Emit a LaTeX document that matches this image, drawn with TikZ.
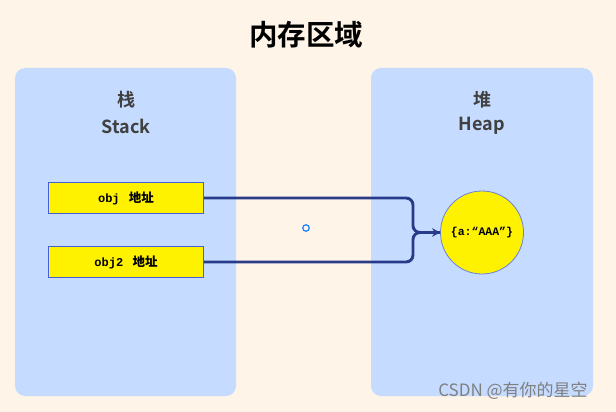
\documentclass[tikz,border=0pt]{standalone}
\usepackage{fontspec}
\usepackage{tikz}
\usetikzlibrary{arrows.meta}
\setmainfont{Noto Sans CJK SC}
\newfontfamily\cjk{Noto Sans CJK SC}
\newfontfamily\cjkbold{Noto Sans CJK SC Bold}
\newfontfamily\codefont{Liberation Mono}
\definecolor{cream}{HTML}{FFF4E8}
\definecolor{paleblue}{HTML}{C5DBFF}
\definecolor{navy}{HTML}{283B8A}
\definecolor{edgeblue}{HTML}{4460D4}
\definecolor{dotblue}{HTML}{1E80FF}
\definecolor{labelgrey}{HTML}{404040}

\begin{document}
\begin{tikzpicture}[x=1pt, y=-1pt, >={Stealth[length=8pt, width=8.5pt]}, thick]

\fill[cream] (0,0) rectangle (616,412);
\useasboundingbox (0,0) rectangle (616,412);

% panels
\fill[paleblue, rounded corners=10pt] (15,68) rectangle (236,396);
\fill[paleblue, rounded corners=10pt] (371,68) rectangle (593,396);

\tikzstyle{every node}=[inner sep=0pt]
\draw    (306, 35)  node (title) {\cjkbold\fontsize{28.5}{30}\selectfont 内存区域};

\tikzstyle{every node}=[inner sep=0pt, text=labelgrey, font=\cjkbold\fontsize{18}{20}\selectfont]
\draw    (126, 100) node (stackzh) {栈}
         (126, 126) node (stacken) {Stack}
         (482, 100) node (heapzh) {堆}
         (482, 126) node (heapen) {Heap};

\tikzstyle{every node}=[rectangle, fill=yellow, draw=edgeblue, line width=0.8pt,
                        minimum width=155.5pt, minimum height=31.5pt, inner sep=0pt]
\draw    (126, 198) node (ref1) {\codefont\bfseries\fontsize{12}{12}\selectfont obj {\cjkbold\fontsize{12.5}{12}\selectfont\,地址}}
         (126, 262) node (ref2) {\codefont\bfseries\fontsize{12}{12}\selectfont obj2 {\cjkbold\fontsize{12.5}{12}\selectfont\,地址}};

\tikzstyle{every node}=[circle, fill=yellow, draw=edgeblue!80, line width=0.8pt,
                        minimum size=83pt, inner sep=0pt]
\draw    (482, 232.5) node (val) {\codefont\bfseries\fontsize{11.5}{12}\selectfont \{a:“AAA”\}};

\tikzstyle{every node}=[circle, draw=dotblue, line width=1.2pt, minimum size=6.5pt, inner sep=0pt]
\draw    (306, 228) node (dot) {};

\coordinate (jn) at (413, 232.5);

\draw [draw=navy, line width=2.9pt, rounded corners=7pt] (ref1.east) -| (jn) -- (val.west);
\draw [draw=navy, line width=2.9pt, rounded corners=7pt, ->] (ref2.east) -| (jn) -- (val.west);

\tikzstyle{every node}=[inner sep=0pt, text=black!50]
\draw    (513, 391) node (mark) {\cjk\fontsize{17}{18}\selectfont CSDN @有你的星空};

\end{tikzpicture}
\end{document}
